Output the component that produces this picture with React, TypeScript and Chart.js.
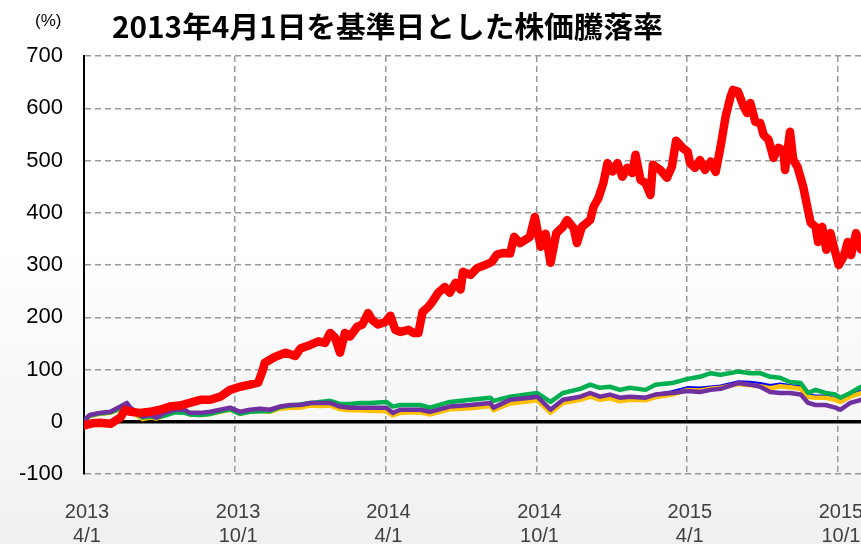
import React, { useEffect, useRef } from 'react';
import { Chart, registerables } from 'chart.js';

Chart.register(...registerables);

const TITLE = '2013年4月1日を基準日とした株価騰落率';
const Y_UNIT = '(%)';

// x axis: days since 2013-04-01
const xTickDays = [0, 183, 365, 548, 730, 913];
const xTickLabels = [
  ['2013', '4/1'],
  ['2013', '10/1'],
  ['2014', '4/1'],
  ['2014', '10/1'],
  ['2015', '4/1'],
  ['2015', '10/1'],
];
const yTicks = [-100, 0, 100, 200, 300, 400, 500, 600, 700];

// red series (days since base, % change)
const redDays = [
  0, 10, 19, 32, 44, 50, 56, 68, 80, 92, 104, 116, 128, 141, 153, 165, 177, 189, 201, 211,
  216, 219, 231, 244, 256, 262, 274, 284, 292, 298, 304, 310, 316, 322, 331, 337, 344, 349, 356, 365,
  371, 377, 383, 393, 399, 405, 410, 417, 422, 429, 437, 443, 450, 456, 459, 468, 476, 486, 494, 500,
  508, 516, 521, 528, 540, 546, 553, 559, 565, 572, 580, 585, 593, 597, 603, 613, 617, 623, 629, 634,
  640, 646, 652, 658, 664, 668, 674, 680, 686, 689, 698, 706, 712, 717, 725, 731, 734, 740, 746, 752,
  759, 765, 771, 777, 783, 786, 792, 799, 803, 807, 813, 819, 823, 829, 835, 841, 847, 849, 855, 859,
  864, 871, 876, 880, 886, 889, 894, 899, 904, 908, 914, 920, 925, 929, 935, 941,
];
const redValues = [
  -7, -3, -2, -4, 8, 23, 19, 17, 19, 23, 29, 31, 36, 42, 42, 48, 61, 67, 71, 75,
  96, 113, 124, 132, 126, 140, 147, 154, 151, 170, 161, 132, 170, 163, 182, 186, 208, 195, 186, 191,
  203, 176, 172, 176, 170, 170, 210, 220, 230, 247, 258, 247, 266, 253, 287, 281, 294, 300, 306, 320,
  323, 322, 354, 342, 354, 392, 335, 360, 304, 361, 373, 386, 371, 342, 373, 386, 411, 428, 457, 495,
  479, 495, 469, 486, 476, 511, 463, 457, 434, 492, 482, 467, 488, 538, 524, 517, 495, 486, 501, 482,
  498, 478, 527, 584, 622, 635, 632, 603, 591, 610, 574, 572, 549, 540, 505, 524, 520, 482, 555, 501,
  488, 450, 411, 381, 373, 344, 373, 329, 361, 335, 300, 316, 344, 319, 361, 330,
];

// other four series share these dates
const days = [
  0, 7, 19, 32, 44, 52, 56, 64, 71, 80, 88, 98, 110, 122, 128, 141, 153, 165, 177, 189,
  201, 213, 225, 237, 250, 262, 274, 286, 298, 310, 322, 334, 347, 366, 374, 383, 407, 419, 443, 468,
  492, 496, 516, 540, 549, 565, 580, 601, 613, 625, 637, 649, 661, 680, 692, 712, 731, 746, 759, 771,
  792, 807, 819, 831, 843, 855, 868, 877, 886, 898, 910, 916, 928, 941,
];
const purpleValues = [
  2, 13, 17, 19, 29, 36, 27, 19, 10, 13, 8, 17, 23, 23, 17, 17, 19, 23, 27, 19,
  23, 25, 23, 29, 32, 32, 36, 36, 36, 29, 27, 27, 27, 27, 17, 23, 23, 19, 29, 32,
  36, 27, 42, 46, 48, 23, 42, 48, 55, 48, 52, 46, 48, 46, 52, 55, 59, 57, 61, 63,
  74, 71, 67, 57, 55, 55, 52, 36, 32, 32, 27, 23, 36, 42,
];
const greenValues = [
  1, 12, 16, 18, 26, 32, 24, 15, 8, 10, 8, 12, 18, 17, 14, 13, 15, 20, 24, 15,
  19, 20, 20, 28, 31, 33, 36, 38, 40, 34, 34, 36, 36, 38, 29, 32, 32, 27, 38, 42,
  46, 40, 48, 53, 55, 38, 55, 63, 71, 65, 67, 61, 65, 61, 71, 74, 82, 86, 93, 90,
  96, 93, 93, 86, 84, 76, 74, 55, 61, 55, 52, 46, 55, 67,
];
const orangeValues = [
  1, 11, 15, 17, 25, 30, 22, 12, 5, 8, 6, 13, 20, 20, 14, 13, 15, 19, 23, 15,
  19, 21, 19, 25, 27, 27, 31, 30, 31, 24, 22, 22, 21, 20, 12, 17, 18, 14, 24, 26,
  30, 22, 35, 39, 41, 17, 36, 42, 48, 42, 45, 39, 42, 41, 47, 52, 61, 60, 63, 65,
  72, 70, 68, 64, 68, 66, 63, 48, 46, 46, 42, 38, 48, 55,
];
const blueValues = [
  1, 12, 16, 18, 27, 34, 25, 16, 8, 11, 7, 15, 21, 21, 15, 15, 17, 21, 25, 17,
  21, 23, 21, 27, 30, 30, 34, 34, 34, 27, 25, 25, 25, 25, 15, 21, 21, 17, 27, 30,
  34, 25, 40, 44, 46, 21, 40, 46, 53, 46, 50, 44, 47, 45, 51, 56, 64, 63, 65, 67,
  75, 74, 72, 68, 71, 68, 66, 50, 48, 48, 43, 40, 50, 57,
];

const pts = (xs: number[], ys: number[]) => xs.map((x, i) => ({ x, y: ys[i] }));

const decorPlugin = {
  id: 'decor',
  beforeDraw(chart: any) {
    const { ctx, width, height } = chart;
    const g = ctx.createLinearGradient(0, 0, 0, height);
    g.addColorStop(0, '#ffffff');
    g.addColorStop(0.45, '#ffffff');
    g.addColorStop(1, '#f0f0f0');
    ctx.save();
    ctx.fillStyle = g;
    ctx.fillRect(0, 0, width, height);
    ctx.restore();
  },
  afterDraw(chart: any) {
    const { ctx } = chart;
    ctx.save();
    ctx.fillStyle = '#000';
    ctx.textBaseline = 'middle';
    ctx.textAlign = 'left';
    ctx.font = '17px "Liberation Sans", Arial, sans-serif';
    ctx.fillText(Y_UNIT, 35, 21);
    ctx.font = 'bold 29px "Noto Sans CJK JP", sans-serif';
    const w = ctx.measureText(TITLE).width;
    ctx.translate(112, 27);
    ctx.scale(551 / w, 1);
    ctx.fillText(TITLE, 0, 0);
    ctx.restore();
  },
};

export default function App() {
  const ref = useRef<HTMLCanvasElement>(null);
  useEffect(() => {
    if (!ref.current) return;
    const lineDs = (label: string, data: any[], color: string, width: number) => ({
      label,
      data,
      borderColor: color,
      backgroundColor: color,
      borderWidth: width,
      pointRadius: 0,
      tension: 0,
      borderJoinStyle: 'round' as const,
      borderCapStyle: 'round' as const,
    });
    const chart = new Chart(ref.current, {
      type: 'line',
      data: {
        datasets: [
          lineDs('red', pts(redDays, redValues), '#ff0000', 8.5),
          lineDs('purple', pts(days, purpleValues), '#7030a0', 4.5),
          lineDs('green', pts(days, greenValues), '#00b050', 4.5),
          lineDs('orange', pts(days, orangeValues), '#ffc000', 4.5),
          lineDs('blue', pts(days, blueValues), '#0000ff', 4.5),
        ],
      },
      plugins: [decorPlugin],
      options: {
        animation: false,
        responsive: false,
        devicePixelRatio: 1,
        layout: { padding: { top: 56, left: 0, right: 0, bottom: 0 } },
        plugins: { legend: { display: false }, tooltip: { enabled: false }, title: { display: false } },
        scales: {
          x: {
            type: 'linear',
            min: 0,
            max: 941,
            afterBuildTicks: (scale: any) => {
              scale.ticks = xTickDays.map((v) => ({ value: v }));
            },
            afterFit: (scale: any) => {
              scale.height = 70;
              scale.paddingLeft = 0;
              scale.paddingRight = 0;
            },
            ticks: {
              autoSkip: false,
              maxRotation: 0,
              padding: 26,
              labelOffset: 3,
              color: '#404040',
              font: { family: '"Liberation Sans", Arial, sans-serif', size: 20, lineHeight: 1.2 },
              callback: (_v: any, i: number) => xTickLabels[i],
            },
            grid: { color: '#999999', lineWidth: 1.5, drawTicks: false },
            border: { display: false, dash: [6, 4] },
          },
          y: {
            min: -100,
            max: 700,
            afterBuildTicks: (scale: any) => {
              scale.ticks = yTicks.map((v) => ({ value: v }));
            },
            afterFit: (scale: any) => {
              scale.width = 84;
            },
            ticks: {
              padding: 21,
              color: '#000000',
              font: { family: '"Liberation Sans", Arial, sans-serif', size: 22 },
            },
            grid: {
              drawTicks: false,
              color: (c: any) => (c.tick && c.tick.value === 0 ? '#000000' : '#999999'),
              lineWidth: (c: any) => (c.tick && c.tick.value === 0 ? 3.5 : 1.5),
            },
            border: {
              display: true,
              color: '#000000',
              width: 2,
              dash: (c: any) => (c.tick && c.tick.value === 0 ? [] : [6, 4]),
            },
          },
        },
      },
    } as any);
    return () => chart.destroy();
  }, []);
  return (
    <div style={{ position: 'fixed', left: 0, top: 0, width: 861, height: 544 }}>
      <canvas ref={ref} width={861} height={544} style={{ display: 'block' }} />
    </div>
  );
}
